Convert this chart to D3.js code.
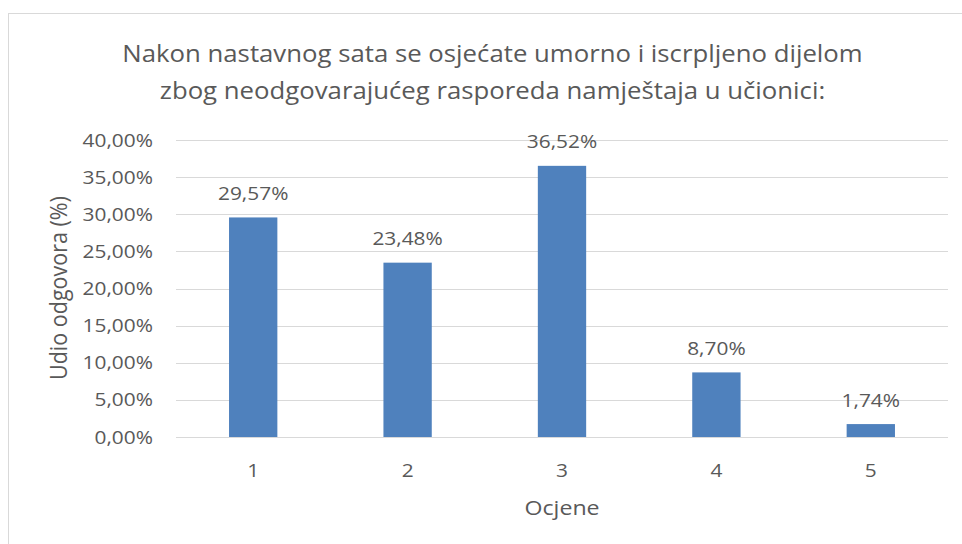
<!DOCTYPE html>
<html>
<head>
<meta charset="utf-8">
<script src="https://cdn.jsdelivr.net/npm/d3@7"></script>
<style>
  html, body { margin: 0; padding: 0; background: #fff; }
  svg { display: block; }
  text { font-family: "Open Sans", sans-serif; fill: #595959; }
</style>
</head>
<body>
<svg id="chart" width="962" height="544"></svg>
<script>
// Survey answers: share of responses per grade
const categories = ["1", "2", "3", "4", "5"];
const values = [29.57, 23.48, 36.52, 8.70, 1.74];
const yTicks = [0, 5, 10, 15, 20, 25, 30, 35, 40];
const titleLines = [
  "Nakon nastavnog sata se osjećate umorno i iscrpljeno dijelom",
  "zbog neodgovarajućeg rasporeda namještaja u učionici:"
];
const xTitle = "Ocjene";
const yTitle = "Udio odgovora (%)";

const W = 962, H = 544;
const SX = 1.13; // horizontal glyph stretch
const fmt = v => v.toFixed(2).replace(".", ",") + "%";

const svg = d3.select("#chart");

// chart frame
svg.append("rect")
  .attr("x", 8.5).attr("y", 13.5)
  .attr("width", W).attr("height", H)
  .attr("fill", "#fff").attr("stroke", "#d9d9d9").attr("stroke-width", 1);

const plot = { left: 176, right: 948, top: 140, bottom: 437 };

const x = d3.scaleBand()
  .domain(categories)
  .range([plot.left, plot.right])
  .paddingInner(0.687)
  .paddingOuter(0.3435);

const y = d3.scaleLinear()
  .domain([0, 40])
  .range([plot.bottom, plot.top]);

// place text with horizontal stretch
function label(parent, str, tx, ty, size, anchor, rotate) {
  const g = parent.append("g")
    .attr("transform", `translate(${tx},${ty}) scale(${SX},1)` + (rotate ? ` rotate(${rotate})` : ""));
  g.append("text")
    .attr("text-anchor", anchor || "middle")
    .attr("font-size", size)
    .text(str);
  return g;
}

// gridlines
svg.append("g").selectAll("line")
  .data(yTicks)
  .join("line")
  .attr("x1", plot.left).attr("x2", plot.right)
  .attr("y1", d => Math.round(y(d)) + 0.5)
  .attr("y2", d => Math.round(y(d)) + 0.5)
  .attr("stroke", "#d9d9d9").attr("stroke-width", 1);

// y tick labels
const yLab = svg.append("g");
yTicks.forEach(t => label(yLab, fmt(t), 153, y(t) + 6.5, 18.5, "end"));

// bars
svg.append("g").selectAll("rect")
  .data(values)
  .join("rect")
  .attr("x", (d, i) => x(categories[i]))
  .attr("width", x.bandwidth())
  .attr("y", d => y(d))
  .attr("height", d => y(0) - y(d))
  .attr("fill", "#4f81bd");

// value labels
const vLab = svg.append("g");
values.forEach((v, i) => label(vLab, fmt(v), x(categories[i]) + x.bandwidth() / 2, y(v) - 17.5, 18.5, "middle"));

// x tick labels
const xLab = svg.append("g");
categories.forEach(c => label(xLab, c, x(c) + x.bandwidth() / 2, 476.5, 18.5, "middle"));

// axis titles
label(svg, xTitle, 562, 515, 20.5, "middle");
label(svg, yTitle, 67, 288, 21.5, "middle", -90);

// chart title
label(svg, titleLines[0], 492.5, 62, 22.8, "middle");
label(svg, titleLines[1], 492.5, 99, 22.8, "middle");
</script>
</body>
</html>
